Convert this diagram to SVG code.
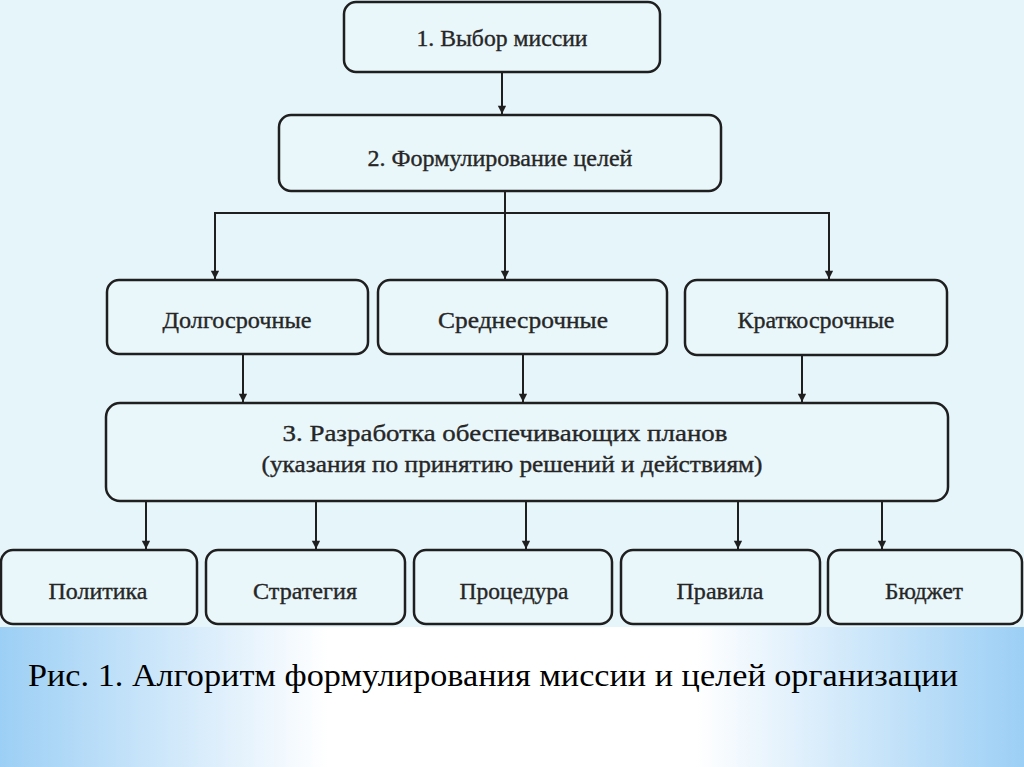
<svg xmlns="http://www.w3.org/2000/svg" width="1024" height="767" viewBox="0 0 1024 767">
  <style>
    .box { fill: #e9f7fb; stroke: #1f1f1f; stroke-width: 2.5; }
    .lbl { font-family: "Liberation Serif", "Times New Roman", serif; font-size: 23px; fill: #262626; stroke: #262626; stroke-width: 0.35; text-anchor: middle; }
    .cap { font-family: "Liberation Serif", "Times New Roman", serif; font-size: 32px; fill: #000000; }
    .conn { fill: none; stroke: #1f1f1f; stroke-width: 2; }
  </style>
  <defs>
    <marker id="arrow" viewBox="0 0 10 12" refX="10" refY="5" markerWidth="12" markerHeight="10" markerUnits="userSpaceOnUse" orient="auto">
      <path d="M0,0 L10,5 L0,10 z" fill="#1f1f1f"/>
    </marker>
    <linearGradient id="band" x1="0" y1="0" x2="1" y2="0">
      <stop offset="0" stop-color="#9ccff5"/>
      <stop offset="0.32" stop-color="#ffffff"/>
      <stop offset="0.68" stop-color="#ffffff"/>
      <stop offset="1" stop-color="#9ccff5"/>
    </linearGradient>
  </defs>

  <rect x="0" y="0" width="1024" height="627" fill="#e6f5fa"/>
  <rect x="0" y="627" width="1024" height="140" fill="url(#band)"/>

  <g id="connectors">
    <path class="conn" d="M502,72 V114" marker-end="url(#arrow)"/>
    <path class="conn" d="M505,191 V279" marker-end="url(#arrow)"/>
    <path class="conn" d="M505,213 H215 V279" marker-end="url(#arrow)"/>
    <path class="conn" d="M505,213 H829 V279" marker-end="url(#arrow)"/>
    <path class="conn" d="M243,354 V402" marker-end="url(#arrow)"/>
    <path class="conn" d="M523,354 V402" marker-end="url(#arrow)"/>
    <path class="conn" d="M802,355 V402" marker-end="url(#arrow)"/>
    <path class="conn" d="M146,501 V549" marker-end="url(#arrow)"/>
    <path class="conn" d="M316,501 V549" marker-end="url(#arrow)"/>
    <path class="conn" d="M526,501 V549" marker-end="url(#arrow)"/>
    <path class="conn" d="M738,501 V549" marker-end="url(#arrow)"/>
    <path class="conn" d="M882,501 V549" marker-end="url(#arrow)"/>
  </g>

  <g id="node-mission">
    <rect class="box" x="344" y="2" width="316" height="70" rx="12"/>
    <text class="lbl" x="502" y="46" textLength="171" lengthAdjust="spacingAndGlyphs">1. Выбор миссии</text>
  </g>
  <g id="node-goals">
    <rect class="box" x="279" y="115" width="442" height="76" rx="12"/>
    <text class="lbl" x="500" y="166" textLength="265" lengthAdjust="spacingAndGlyphs">2. Формулирование целей</text>
  </g>
  <g id="node-long">
    <rect class="box" x="107" y="280" width="261" height="74" rx="12"/>
    <text class="lbl" x="237" y="328" textLength="149" lengthAdjust="spacingAndGlyphs">Долгосрочные</text>
  </g>
  <g id="node-mid">
    <rect class="box" x="378" y="280" width="289" height="74" rx="12"/>
    <text class="lbl" x="523" y="328" textLength="170" lengthAdjust="spacingAndGlyphs">Среднесрочные</text>
  </g>
  <g id="node-short">
    <rect class="box" x="685" y="280" width="262" height="75" rx="12"/>
    <text class="lbl" x="816" y="328" textLength="157" lengthAdjust="spacingAndGlyphs">Краткосрочные</text>
  </g>
  <g id="node-plans">
    <rect class="box" x="106" y="403" width="842" height="98" rx="14"/>
    <text class="lbl" x="505" y="441" textLength="445" lengthAdjust="spacingAndGlyphs">3. Разработка обеспечивающих планов</text>
    <text class="lbl" x="512" y="472" textLength="501" lengthAdjust="spacingAndGlyphs">(указания по принятию решений и действиям)</text>
  </g>
  <g id="node-policy">
    <rect class="box" x="1" y="550" width="196" height="74" rx="12"/>
    <text class="lbl" x="98" y="599" textLength="99" lengthAdjust="spacingAndGlyphs">Политика</text>
  </g>
  <g id="node-strategy">
    <rect class="box" x="206" y="550" width="199" height="74" rx="12"/>
    <text class="lbl" x="305" y="599" textLength="104" lengthAdjust="spacingAndGlyphs">Стратегия</text>
  </g>
  <g id="node-procedure">
    <rect class="box" x="414" y="550" width="198" height="74" rx="12"/>
    <text class="lbl" x="514" y="599" textLength="109" lengthAdjust="spacingAndGlyphs">Процедура</text>
  </g>
  <g id="node-rules">
    <rect class="box" x="621" y="550" width="199" height="74" rx="12"/>
    <text class="lbl" x="720" y="599" textLength="87" lengthAdjust="spacingAndGlyphs">Правила</text>
  </g>
  <g id="node-budget">
    <rect class="box" x="828" y="550" width="194" height="74" rx="12"/>
    <text class="lbl" x="924" y="599" textLength="78" lengthAdjust="spacingAndGlyphs">Бюджет</text>
  </g>

  <text class="cap" x="28" y="686" textLength="930" lengthAdjust="spacingAndGlyphs">Рис. 1. Алгоритм формулирования миссии и целей организации</text>
</svg>
